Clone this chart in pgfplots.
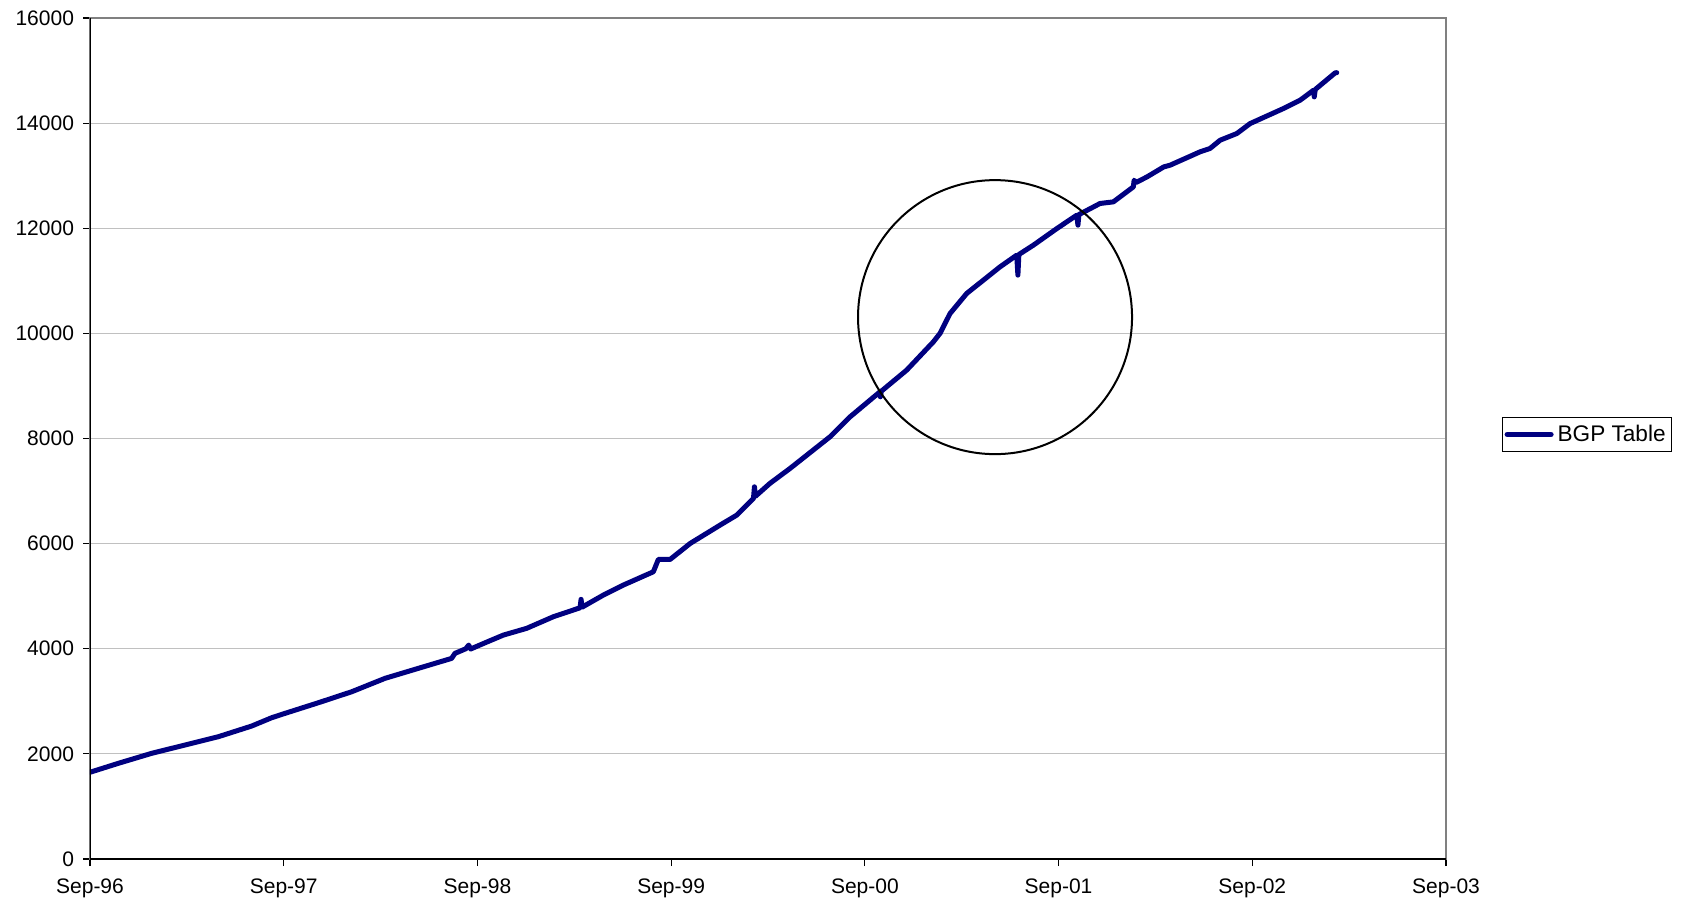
\documentclass[border=0pt]{standalone}
\usepackage{pgfplots}
\pgfplotsset{compat=1.18}
\usepackage{fontspec}
\setmainfont{Liberation Sans}
\definecolor{bgpnavy}{RGB}{0,0,128}
\definecolor{gridgray}{RGB}{192,192,192}
\definecolor{framegray}{RGB}{128,128,128}

% years since Sep-96, prefix count
\pgfplotstableread{
t v
0.000 1650
0.146 1820
0.318 2010
0.490 2168
0.662 2326
0.835 2530
0.938 2688
1.007 2771
1.179 2973
1.351 3182
1.523 3437
1.695 3627
1.867 3817
1.884 3912
1.940 4000
1.955 4070
1.965 3995
2.040 4114
2.134 4260
2.254 4388
2.392 4609
2.530 4780
2.535 4940
2.540 4790
2.650 5021
2.753 5211
2.908 5464
2.934 5700
2.995 5700
3.098 6003
3.253 6353
3.339 6543
3.425 6860
3.430 7081
3.435 6900
3.510 7146
3.614 7431
3.820 8032
3.924 8413
4.078 8888
4.080 8793
4.085 8900
4.216 9301
4.354 9840
4.388 10000
4.440 10379
4.526 10760
4.612 11013
4.698 11266
4.784 11488
4.790 11108
4.795 11500
4.870 11678
4.991 11994
5.094 12249
5.100 12059
5.105 12260
5.214 12471
5.283 12502
5.386 12787
5.390 12914
5.400 12870
5.457 12978
5.543 13167
5.576 13200
5.730 13453
5.782 13518
5.834 13675
5.920 13802
5.989 13992
6.161 14278
6.247 14436
6.316 14626
6.320 14499
6.325 14640
6.428 14956
6.436 14960
}\bgpdata

\begin{document}
\begin{tikzpicture}
\begin{axis}[
    scale only axis,
    width=678bp, height=420.5bp,
    xmin=0, xmax=7, ymin=0, ymax=16000,
    xtick={0,1,2,3,4,5,6,7},
    xticklabels={Sep-96,Sep-97,Sep-98,Sep-99,Sep-00,Sep-01,Sep-02,Sep-03},
    ytick={0,2000,...,16000},
    scaled y ticks=false,
    xtick pos=bottom, ytick pos=left,
    tick align=outside,
    major tick length=3.5bp,
    tick style={black, line width=0.6bp},
    ymajorgrids,
    major grid style={gridgray, line width=0.6bp},
    axis line style={framegray, line width=0.7bp},
    ticklabel style={font=\fontsize{10.5bp}{12bp}\selectfont},
    /pgf/number format/.cd, assume math mode=true, set thousands separator={},
    /pgfplots/.cd,
    xticklabel style={yshift=-3bp},
    yticklabel style={xshift=-1bp},
    legend style={at={(1.0413,0.5048)}, anchor=west, draw=black, line width=0.6bp,
        font=\fontsize{11.3bp}{13bp}\selectfont, inner xsep=1bp, inner ysep=1.5bp},
    legend image code/.code={\draw[#1] (0bp,0bp) -- (22bp,0bp);},
]
\addplot[bgpnavy, line width=2.5bp, line join=round, line cap=round] table[x=t, y=v] {\bgpdata};
\addlegendentry{BGP Table}
\draw[black, line width=0.8bp] (rel axis cs:0,1) -- (rel axis cs:0,0) -- (rel axis cs:1,0);
\draw[black, line width=1bp] (axis cs:4.672,10309) circle [radius=68.5bp];
\coordinate (o) at (rel axis cs:0,0);
\end{axis}
\pgfresetboundingbox
\path (o) ++(-45bp,-21bp) rectangle ++(842bp,450.5bp);
\end{tikzpicture}
\end{document}
